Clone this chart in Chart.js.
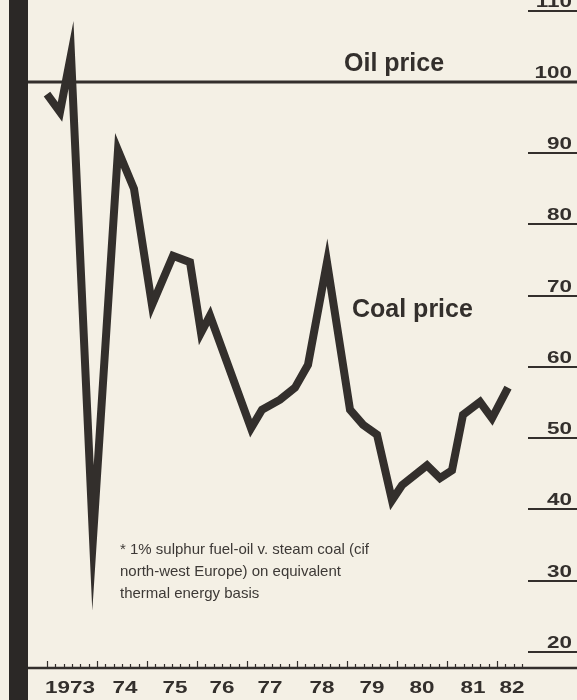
<!DOCTYPE html>
<html>
<head>
<meta charset="utf-8">
<script src="https://cdn.jsdelivr.net/npm/chart.js"></script>
<style>
  html, body { margin: 0; padding: 0; background: #f4f0e5; }
  canvas { display: block; }
</style>
</head>
<body>
<canvas id="chart" width="577" height="700"></canvas>
<script>
// coal price relative to oil (oil = 100), time in decimal years
const coalYears = [1973.0, 1973.26, 1973.48, 1973.92, 1974.42, 1974.74, 1975.1, 1975.52, 1975.86,
  1976.08, 1976.26, 1977.08, 1977.3, 1977.66, 1977.96, 1978.22, 1978.6, 1979.06, 1979.32,
  1979.6, 1979.9, 1980.1, 1980.6, 1980.86, 1981.1, 1981.32, 1981.66, 1981.9, 1982.22];
const coalValues = [98.3, 95.8, 103.8, 36.0, 90.4, 85.0, 68.7, 75.6, 74.7,
  64.8, 67.2, 51.4, 54.0, 55.4, 57.1, 60.3, 74.7, 54.0, 51.9,
  50.5, 41.3, 43.4, 46.2, 44.4, 45.5, 53.3, 55.1, 52.8, 57.1];
const oilValue = 100;

const yTicks = [20, 30, 40, 50, 60, 70, 80, 90, 100, 110];
const yearLabels = ["1973", "74", "75", "76", "77", "78", "79", "80", "81", "82"];
const yearLabelAt = [1973.46, 1974.56, 1975.56, 1976.5, 1977.46, 1978.5, 1979.5, 1980.5, 1981.52, 1982.3];

const X_MIN = 1972.62, X_MAX = 1983.6;
const INK = "#332f2c";
const NUM_FONT = "bold 17px 'Liberation Sans', Arial, sans-serif";

const coalData = coalYears.map((x, i) => ({ x: x, y: coalValues[i] }));
const oilData = [{ x: X_MIN, y: oilValue }, { x: X_MAX, y: oilValue }];

// the scale figures are set in a wide face: stretch them sideways
function wideText(ctx, text, x, y, align) {
  ctx.save();
  ctx.translate(x, y);
  ctx.scale(1.32, 1);
  ctx.textAlign = align;
  ctx.fillText(text, 0, 0);
  ctx.restore();
}

const decor = {
  id: "decor",
  beforeDraw(chart) {
    const ctx = chart.ctx;
    ctx.save();
    ctx.fillStyle = "#f4f0e5";
    ctx.fillRect(0, 0, chart.width, chart.height);
    ctx.restore();
  },
  beforeDatasetsDraw(chart) {
    // sharp turns of the line end in long pointed joins
    chart.ctx.miterLimit = 40;
  },
  afterDraw(chart) {
    const ctx = chart.ctx;
    const xs = chart.scales.x, ys = chart.scales.y;
    const area = chart.chartArea;
    ctx.save();

    // heavy bar down the left edge
    ctx.fillStyle = "#2b2826";
    ctx.fillRect(9, 0, 19, chart.height);

    // right-hand scale: short rules with the value above
    ctx.strokeStyle = INK;
    ctx.fillStyle = INK;
    ctx.lineWidth = 2;
    ctx.font = NUM_FONT;
    ctx.textBaseline = "alphabetic";
    yTicks.forEach(v => {
      const y = Math.round(ys.getPixelForValue(v));
      ctx.beginPath();
      ctx.moveTo(528, y);
      ctx.lineTo(area.right, y);
      ctx.stroke();
      wideText(ctx, String(v), 572, y - 4, "right");
    });

    // time axis: base line, bimonthly ticks, taller ticks at each year
    const base = area.bottom;
    ctx.lineWidth = 2.5;
    ctx.beginPath();
    ctx.moveTo(area.left, base);
    ctx.lineTo(area.right, base);
    ctx.stroke();
    ctx.lineWidth = 1.2;
    for (let m = 0; m <= 57; m++) {
      const t = 1973 + m / 6;
      const x = Math.round(xs.getPixelForValue(t)) + 0.5;
      const h = m % 6 === 0 ? 7 : 4;
      ctx.beginPath();
      ctx.moveTo(x, base);
      ctx.lineTo(x, base - h);
      ctx.stroke();
    }
    yearLabels.forEach((lab, i) => {
      wideText(ctx, lab, xs.getPixelForValue(yearLabelAt[i]), 693, "center");
    });

    // series labels
    ctx.font = "bold 25px 'Liberation Sans', Arial, sans-serif";
    ctx.textAlign = "left";
    ctx.fillText("Oil price", 344, 71);
    ctx.fillText("Coal price", 352, 317);

    // footnote
    ctx.font = "15px 'Liberation Sans', Arial, sans-serif";
    ctx.fillStyle = "#3d3936";
    ctx.fillText("* 1% sulphur fuel-oil v. steam coal (cif", 120, 554);
    ctx.fillText("north-west Europe) on equivalent", 120, 576);
    ctx.fillText("thermal energy basis", 120, 598);
    ctx.restore();
  }
};

new Chart(document.getElementById("chart"), {
  type: "line",
  data: {
    datasets: [
      {
        label: "Coal price",
        data: coalData,
        borderColor: INK,
        borderWidth: 8,
        borderJoinStyle: "miter",
        borderCapStyle: "butt",
        tension: 0,
        pointRadius: 0,
        clip: false,
      },
      {
        label: "Oil price",
        data: oilData,
        borderColor: INK,
        borderWidth: 3,
        pointRadius: 0,
        clip: false,
      },
    ],
  },
  options: {
    responsive: false,
    animation: false,
    devicePixelRatio: 1,
    layout: { padding: { left: 28, right: 0, top: 0, bottom: 32 } },
    plugins: {
      legend: { display: false },
      tooltip: { enabled: false },
    },
    scales: {
      x: { type: "linear", min: X_MIN, max: X_MAX, display: false },
      y: { min: 17.75, max: 111.5, display: false },
    },
  },
  plugins: [decor],
});
</script>
</body>
</html>
